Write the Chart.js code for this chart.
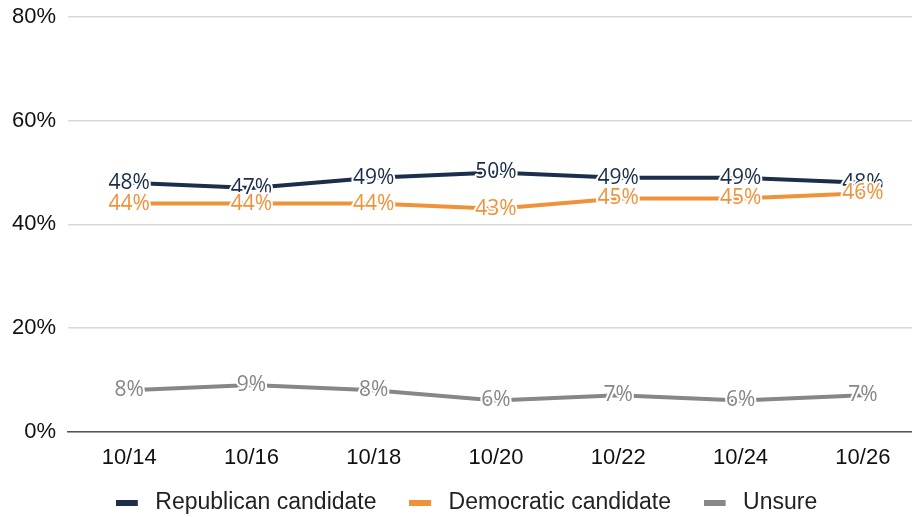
<!DOCTYPE html>
<html>
<head>
<meta charset="utf-8">
<script src="https://cdn.jsdelivr.net/npm/chart.js@4.4.1/dist/chart.umd.min.js"></script>
<style>
  html, body { margin: 0; padding: 0; background: #fff; overflow: hidden; }
  #wrap { width: 924px; height: 517px; position: relative; }
</style>
</head>
<body>
<div id="wrap"><canvas id="c"></canvas></div>
<script>
const categories = ['10/14', '10/16', '10/18', '10/20', '10/22', '10/24', '10/26'];
const republican = [48, 47, 49, 50, 49, 49, 48];
const democratic = [44, 44, 44, 43, 45, 45, 46];
const unsure = [8, 9, 8, 6, 7, 6, 7];
const seriesNames = ['Republican candidate', 'Democratic candidate', 'Unsure'];
const seriesColors = ['#1b2f4a', '#f0923a', '#878787'];
const yTicks = [0, 20, 40, 60, 80];

function legendSwatch(color) {
  const c = document.createElement('canvas');
  c.width = 28; c.height = 6;
  const g = c.getContext('2d');
  g.fillStyle = color;
  g.fillRect(0, 0, 22, 6);
  return c;
}

const labelPlugin = {
  id: 'pointLabels',
  afterLayout(chart) {
    if (chart.legend) { chart.legend.left += 4.5; chart.legend.right += 4.5; }
  },
  afterDatasetsDraw(chart) {
    const ctx = chart.ctx;
    ctx.save();
    ctx.font = "21px 'Open Sans'";
    ctx.textAlign = 'center';
    ctx.textBaseline = 'middle';
    chart.data.datasets.forEach((ds, i) => {
      const meta = chart.getDatasetMeta(i);
      meta.data.forEach((pt, j) => {
        const txt = ds.data[j] + '%';
        ctx.lineWidth = 4;
        ctx.strokeStyle = '#ffffff';
        ctx.lineJoin = 'round';
        ctx.strokeText(txt, pt.x, pt.y);
        ctx.fillStyle = ds.borderColor;
        ctx.fillText(txt, pt.x, pt.y);
      });
    });
    ctx.restore();
  }
};

function build() {
  const mk = (name, data, color) => ({
    label: name,
    data: data,
    borderColor: color,
    backgroundColor: color,
    borderWidth: 4,
    pointRadius: 0,
    pointHoverRadius: 0,
    pointStyle: legendSwatch(color),
    tension: 0,
    fill: false
  });
  new Chart(document.getElementById('c'), {
    type: 'line',
    data: {
      labels: categories,
      datasets: [
        mk(seriesNames[0], republican, seriesColors[0]),
        mk(seriesNames[1], democratic, seriesColors[1]),
        mk(seriesNames[2], unsure, seriesColors[2])
      ]
    },
    options: {
      responsive: true,
      maintainAspectRatio: false,
      animation: false,
      layout: { padding: { left: 0, right: 0, top: 17, bottom: -7 } },
      plugins: {
        tooltip: { enabled: false },
        legend: {
          position: 'bottom',
          labels: {
            usePointStyle: true,
            pointStyleWidth: 28,
            boxHeight: 6,
            padding: 7,
            color: '#222',
            font: { family: "'Liberation Sans', Arial, sans-serif", size: 23 },
            generateLabels(chart) {
              const items = Chart.defaults.plugins.legend.labels.generateLabels(chart);
              items.forEach((it, i) => {
                if (i < items.length - 1) it.text = it.text + '    ';
              });
              return items;
            }
          }
        }
      },
      scales: {
        x: {
          offset: true,
          grid: { display: false, drawTicks: false },
          border: { display: true, color: '#555', width: 1.5 },
          ticks: {
            color: '#111',
            padding: 13,
            font: { family: "'Liberation Sans', Arial, sans-serif", size: 22 }
          }
        },
        y: {
          min: 0,
          max: 80,
          afterBuildTicks: (axis) => { axis.ticks = yTicks.map(v => ({ value: v })); },
          afterFit: (axis) => { axis.paddingTop = 0; },
          grid: { color: '#d9d9d9', lineWidth: 1.5, drawTicks: false },
          border: { display: false },
          ticks: {
            color: '#111',
            padding: 12,
            font: { family: "'Liberation Sans', Arial, sans-serif", size: 22 },
            callback: (v) => v + '%'
          }
        }
      }
    },
    plugins: [labelPlugin]
  });
}

Promise.all([
  document.fonts.load("21px 'Open Sans'"),
  document.fonts.load("22px 'Liberation Sans'")
]).then(build, build);
</script>
</body>
</html>
